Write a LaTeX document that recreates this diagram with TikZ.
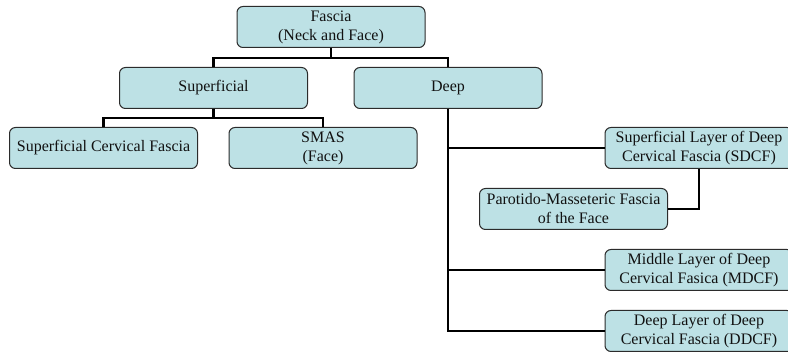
\documentclass[tikz,border=0pt]{standalone}
\usepackage{fontspec}
\setmainfont{Liberation Serif}
\usepackage{tikz}
\usetikzlibrary{positioning,calc}
\definecolor{boxfill}{HTML}{BDE1E5}
\definecolor{boxline}{HTML}{2B2B2B}
\definecolor{ink}{HTML}{111111}
\tikzset{
  blk/.style={rectangle,rounded corners=6pt,draw=boxline,fill=boxfill,line width=1pt,
    align=center,inner sep=2pt,minimum width=188pt,minimum height=41pt,
    font=\fontsize{16}{19}\selectfont,text=ink},
  conn/.style={line width=2.8pt,draw=black},
}
\begin{document}
\begin{tikzpicture}[x=1pt,y=-1pt]
  \useasboundingbox (0,0) rectangle (788,352);
  \node[blk] (fas) at (331,27) {Fascia\\(Neck and Face)};
  \node[blk] (sup) at (213.5,88) {Superficial};
  \node[blk] (dp) at (448,88) {Deep};
  \node[blk] (scf) at (103.5,148) {Superficial Cervical Fascia};
  \node[blk] (smas) at (323,148) {SMAS\\(Face)};
  \node[blk] (sdcf) at (699,148) {Superficial Layer of Deep\\Cervical Fascia (SDCF)};
  \node[blk] (par) at (573.5,209) {Parotido-Masseteric Fascia\\of the Face};
  \node[blk] (mdcf) at (699,270) {Middle Layer of Deep\\Cervical Fasica (MDCF)};
  \node[blk] (ddcf) at (699,331) {Deep Layer of Deep\\Cervical Fascia (DDCF)};
  % connectors
  \coordinate (fj) at (331,58);
  \coordinate (sj) at (213.5,118);
  \foreach \b in {sup,dp} \draw[conn] (fas.south) -- (fj) -| (\b.north);
  \foreach \b in {scf,smas} \draw[conn] (sup.south) -- (sj) -| (\b.north);
  \foreach \b in {sdcf,mdcf,ddcf} \draw[conn] (dp.south) |- (\b.west);
  \draw[conn] (par.east) -| (sdcf.south);
\end{tikzpicture}
\end{document}
